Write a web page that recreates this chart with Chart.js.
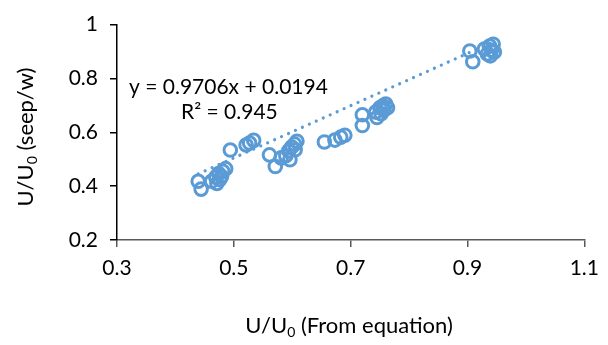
<!DOCTYPE html>
<html>
<head>
<meta charset="utf-8">
<script src="https://cdn.jsdelivr.net/npm/chart.js@4"></script>
<style>
  html, body { margin: 0; padding: 0; background: #fff; }
  #wrap { width: 608px; height: 345px; }
</style>
</head>
<body>
<div id="wrap"><canvas id="grafico" width="608" height="345"></canvas></div>
<script>
// valores
var xVals = [0.439, 0.444, 0.462, 0.469, 0.474, 0.481, 0.486, 0.471, 0.479, 0.476,
             0.494, 0.521, 0.527, 0.534,
             0.561, 0.571, 0.581, 0.589, 0.594, 0.599, 0.604, 0.608, 0.596, 0.605,
             0.655, 0.673, 0.683, 0.690,
             0.720, 0.720, 0.745, 0.743, 0.750, 0.755, 0.760, 0.757, 0.752, 0.763,
             0.904, 0.909, 0.929, 0.934, 0.938, 0.941, 0.944, 0.939, 0.946];
var yVals = [0.418, 0.389, 0.418, 0.433, 0.447, 0.455, 0.465, 0.410, 0.436, 0.425,
             0.534, 0.553, 0.560, 0.570,
             0.516, 0.473, 0.505, 0.513, 0.531, 0.545, 0.556, 0.567, 0.498, 0.535,
             0.564, 0.571, 0.582, 0.589,
             0.665, 0.625, 0.655, 0.675, 0.691, 0.698, 0.705, 0.683, 0.669, 0.691,
             0.902, 0.862, 0.909, 0.891, 0.920, 0.905, 0.927, 0.884, 0.898];
var xTicks = [0.3, 0.5, 0.7, 0.9, 1.1];
var yTicks = [0.2, 0.4, 0.6, 0.8, 1];
var pendiente = 0.9706;
var intercepto = 0.0194;
var textoEcuacion = 'y = 0.9706x + 0.0194';
var textoR2 = 'R² = 0.945';

var azul = '#5B9BD5';
var fuente = 'Lato, "Open Sans", sans-serif';

var puntos = xVals.map(function (x, i) { return { x: x, y: yVals[i] }; });
var xMin = Math.min.apply(null, xVals);
var xMax = Math.max.apply(null, xVals);
var tendencia = [
  { x: xMin, y: pendiente * xMin + intercepto },
  { x: xMax, y: pendiente * xMax + intercepto }
];

// titulos con subindice y ecuacion
var textos = {
  id: 'textos',
  afterDraw: function (chart) {
    var ctx = chart.ctx;
    ctx.save();
    ctx.fillStyle = '#000';
    ctx.textBaseline = 'middle';

    ctx.font = '21px ' + fuente;
    ctx.textAlign = 'left';
    ctx.fillText(textoEcuacion, 129, 87);
    ctx.fillText(textoR2, 181, 112);

    function conSub(a, sub, b, cx, cy) {
      ctx.font = '22px ' + fuente;
      var wa = ctx.measureText(a).width;
      var wb = ctx.measureText(b).width;
      ctx.font = '14px ' + fuente;
      var ws = ctx.measureText(sub).width;
      var total = wa + ws + wb;
      var x0 = cx - total / 2;
      ctx.textAlign = 'left';
      ctx.font = '22px ' + fuente;
      ctx.fillText(a, x0, cy);
      ctx.font = '14px ' + fuente;
      ctx.fillText(sub, x0 + wa, cy + 6);
      ctx.font = '22px ' + fuente;
      ctx.fillText(b, x0 + wa + ws, cy);
    }

    conSub('U/U', '0', ' (From equation)', 349, 326);

    ctx.translate(26, 137);
    ctx.rotate(-Math.PI / 2);
    conSub('U/U', '0', ' (seep/w)', 0, 0);
    ctx.restore();
  }
};

var grafico = new Chart(document.getElementById('grafico').getContext('2d'), {
  type: 'scatter',
  data: {
    datasets: [
      {
        label: 'datos',
        data: puntos,
        showLine: false,
        pointStyle: 'circle',
        pointRadius: 6.3,
        pointBorderWidth: 3,
        pointBorderColor: azul,
        pointBackgroundColor: 'rgba(0,0,0,0)',
        order: 2
      },
      {
        label: 'tendencia',
        data: tendencia,
        showLine: true,
        borderColor: azul,
        borderWidth: 3.2,
        borderDash: [0.01, 7.6],
        borderCapStyle: 'round',
        pointRadius: 0,
        order: 1
      }
    ]
  },
  options: {
    responsive: false,
    animation: false,
    layout: { padding: { left: 0, top: 20, right: 13, bottom: 0 } },
    plugins: {
      legend: { display: false },
      tooltip: { enabled: false }
    },
    scales: {
      x: {
        type: 'linear',
        min: 0.3,
        max: 1.1,
        afterBuildTicks: function (s) { s.ticks = xTicks.map(function (v) { return { value: v }; }); },
        afterFit: function (s) { s.height = 105; },
        border: { color: '#595959', width: 1.5 },
        grid: { drawOnChartArea: false, tickLength: 7, color: '#595959', lineWidth: 1.5 },
        ticks: {
          color: '#000', font: { family: fuente, size: 21 }, padding: 9, maxRotation: 0,
          callback: function (v) { return String(v); }
        }
      },
      y: {
        type: 'linear',
        min: 0.2,
        max: 1,
        afterBuildTicks: function (s) { s.ticks = yTicks.map(function (v) { return { value: v }; }); },
        afterFit: function (s) { s.width = 117; },
        border: { color: '#000', width: 1.5 },
        grid: { drawOnChartArea: false, tickLength: 7, color: '#000', lineWidth: 1.5 },
        ticks: {
          color: '#000', font: { family: fuente, size: 21 }, padding: 12,
          callback: function (v) { return String(v); }
        }
      }
    }
  },
  plugins: [textos]
});
</script>
</body>
</html>
